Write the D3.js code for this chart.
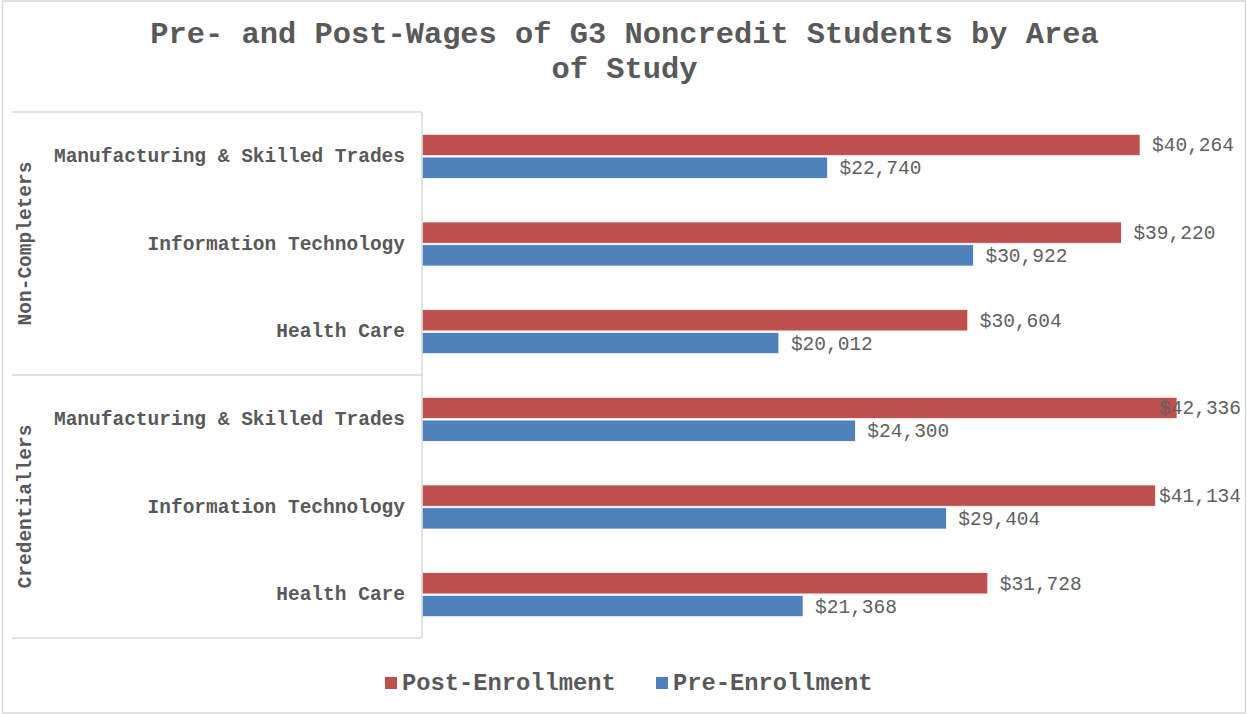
<!DOCTYPE html>
<html>
<head>
<meta charset="utf-8">
<script src="https://cdn.jsdelivr.net/npm/d3@7"></script>
<style>
  body { margin: 0; background: #fff; }
  svg text { font-family: "Courier New", "Liberation Mono", monospace; fill: #595959; }
</style>
</head>
<body>
<div id="chart"></div>
<script>
// data
let groups = ["Non-Completers", "Credentiallers"];
let areas = ["Manufacturing & Skilled Trades", "Information Technology", "Health Care"];
let series = ["Post-Enrollment", "Pre-Enrollment"];
let postWages = [40264, 39220, 30604, 42336, 41134, 31728];
let preWages = [22740, 30922, 20012, 24300, 29404, 21368];
let colors = ["#c0504d", "#4f81bd"];

let width = 1247, height = 714;
let plotLeft = 422, plotTop = 112, plotBottom = 638, plotRight = 1224.5;

let svg = d3.select("#chart").append("svg")
    .attr("width", width)
    .attr("height", height);

svg.append("rect")
    .attr("x", 2.5).attr("y", 1)
    .attr("width", 1243).attr("height", 712)
    .attr("fill", "#fff")
    .attr("stroke", "#d9d9d9")
    .attr("stroke-width", 1.5);

// title
let title = svg.append("text")
    .attr("text-anchor", "middle")
    .style("font-size", "30.4px")
    .style("font-weight", "bold");
title.append("tspan").attr("x", 624.5).attr("y", 43).text("Pre- and Post-Wages of G3 Noncredit Students by Area");
title.append("tspan").attr("x", 624.5).attr("y", 78).text("of Study");

// rows
let rows = [];
groups.forEach((g, gi) => {
    areas.forEach((a, ai) => {
        let i = gi * areas.length + ai;
        rows.push({ id: i, group: g, area: a, values: [postWages[i], preWages[i]] });
    });
});

let x = d3.scaleLinear().domain([0, 45000]).range([plotLeft, plotRight]);

let y = d3.scaleBand()
    .domain(rows.map(d => d.id))
    .range([plotTop, plotBottom])
    .paddingInner(0.464)
    .paddingOuter(0.232);

let yInner = d3.scaleBand()
    .domain(series)
    .range([0, y.bandwidth()])
    .padding(0.065);

// bars
let rowG = svg.selectAll("g.row")
    .data(rows)
    .enter().append("g")
    .attr("class", "row")
    .attr("transform", d => "translate(0," + (y(d.id) + 0.5) + ")");

rowG.selectAll("rect")
    .data(d => d.values.map((v, k) => ({ s: series[k], v: v, k: k })))
    .enter().append("rect")
    .attr("x", x(0))
    .attr("y", d => yInner(d.s))
    .attr("width", d => x(d.v) - x(0))
    .attr("height", yInner.bandwidth())
    .attr("fill", d => colors[d.k])
    .attr("stroke", "#fff")
    .attr("stroke-width", 0.75);

let fmt = d3.format("$,.0f");
rowG.selectAll("text.val")
    .data(d => d.values.map((v, k) => ({ s: series[k], v: v, k: k })))
    .enter().append("text")
    .attr("class", "val")
    .attr("y", d => yInner(d.s) + yInner.bandwidth() / 2 + 1.5)
    .attr("dominant-baseline", "central")
    .style("font-size", "19.5px")
    .style("fill", "#606060")
    .text(d => fmt(d.v))
    .attr("x", function(d) {
        let w = this.getComputedTextLength();
        return Math.min(x(d.v) + 12, 1241 - w);
    });

// category axis
let rowScale = d3.scaleBand().domain(rows.map(d => d.id)).range([plotTop, plotBottom]);
let yAxis = svg.append("g")
    .attr("transform", "translate(" + plotLeft + ",0)")
    .call(d3.axisLeft(rowScale).tickSize(0).tickPadding(17).tickFormat(i => rows[i].area));
yAxis.select(".domain").remove();
yAxis.selectAll("text")
    .style("font-size", "19.5px")
    .style("font-weight", "bold")
    .style("font-family", "\"Courier New\", \"Liberation Mono\", monospace")
    .attr("fill", "#595959");

// axis line and group dividers
svg.append("line")
    .attr("x1", plotLeft).attr("x2", plotLeft)
    .attr("y1", plotTop).attr("y2", plotBottom)
    .attr("stroke", "#d9d9d9").attr("stroke-width", 1.5);

let groupScale = d3.scaleBand().domain(groups).range([plotTop, plotBottom]);
let edges = [plotTop].concat(groups.map(g => groupScale(g) + groupScale.bandwidth()));
svg.selectAll("line.div")
    .data(edges)
    .enter().append("line")
    .attr("class", "div")
    .attr("x1", 12).attr("x2", plotLeft)
    .attr("y1", d => d).attr("y2", d => d)
    .attr("stroke", "#d9d9d9").attr("stroke-width", 1.5);

svg.selectAll("text.grp")
    .data(groups)
    .enter().append("text")
    .attr("class", "grp")
    .attr("transform", g => "translate(26," + (groupScale(g) + groupScale.bandwidth() / 2) + ") rotate(-90)")
    .attr("text-anchor", "middle")
    .attr("dominant-baseline", "central")
    .style("font-size", "19.5px")
    .style("font-weight", "bold")
    .text(g => g);

// legend
let legendX = [385, 656];
let leg = svg.selectAll("g.leg")
    .data(series)
    .enter().append("g")
    .attr("class", "leg")
    .attr("transform", (d, i) => "translate(" + legendX[i] + ",677)");
leg.append("rect")
    .attr("width", 12).attr("height", 12)
    .attr("fill", (d, i) => colors[i]);
leg.append("text")
    .attr("x", 17).attr("y", 6)
    .attr("dominant-baseline", "central")
    .style("font-size", "23.75px")
    .style("font-weight", "bold")
    .text(d => d);
</script>
</body>
</html>
